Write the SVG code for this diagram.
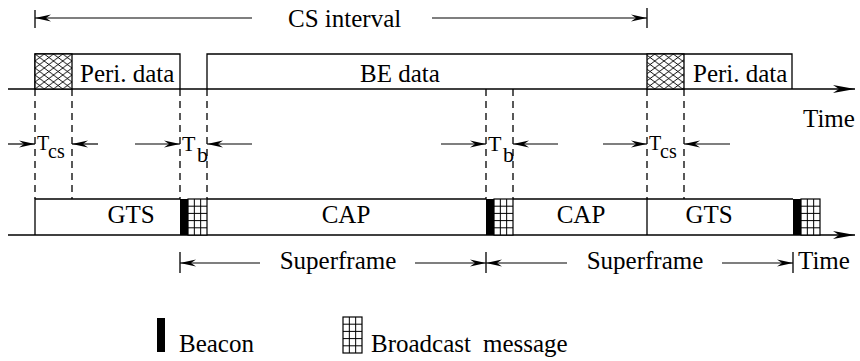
<svg xmlns="http://www.w3.org/2000/svg" xmlns:xlink="http://www.w3.org/1999/xlink" width="860" height="361" viewBox="0 0 860 361" font-family="'Liberation Serif', 'DejaVu Serif', serif">
<style>
text{font-family:'Liberation Serif','DejaVu Serif',serif;fill:#000}
.t{font-size:25px}
.s{font-size:20px}
.ln{stroke:#000;stroke-width:1.3;fill:none}
.dash{stroke:#000;stroke-width:1.3;stroke-dasharray:7 5;fill:none}
.arr{stroke:#000;stroke-width:1.2;fill:none;marker-end:url(#ah)}
.tl{stroke:#000;stroke-width:1.4;fill:none;marker-end:url(#big)}
</style>
<defs>
<marker id="ah" viewBox="0 0 16 8" refX="16" refY="4" markerWidth="16" markerHeight="8" markerUnits="userSpaceOnUse" orient="auto">
<path d="M0,0.6 L16,4 L0,7.4 L5,4 z" fill="#000"/>
</marker>
<marker id="big" viewBox="0 0 22 10" refX="22" refY="5" markerWidth="22" markerHeight="10" markerUnits="userSpaceOnUse" orient="auto">
<path d="M0,1 L22,5 L0,9 L6,5 z" fill="#000"/>
</marker>
<pattern id="xh" patternUnits="userSpaceOnUse" x="35" y="54" width="9.25" height="7">
<rect width="9.25" height="7" fill="#fff"/>
<path d="M0,0 L9.25,7 M0,7 L9.25,0" stroke="#000" stroke-width="0.9"/>
</pattern>
<g id="bgrid">
<rect x="0" y="0" width="19" height="36" fill="#fff" stroke="#000" stroke-width="1.2"/>
<path d="M6.33,0 V36 M12.67,0 V36 M0,7.2 H19 M0,14.4 H19 M0,21.6 H19 M0,28.8 H19" stroke="#000" stroke-width="1"/>
</g>
</defs>

<g id="cs-interval">
<path class="ln" d="M35,10 V28 M647,8 V28"/>
<line class="arr" x1="252" y1="18" x2="35" y2="18"/>
<line class="arr" x1="432" y1="18" x2="647" y2="18"/>
<text class="t" x="288" y="27">CS interval</text>
</g>

<g id="connectors">
<line class="tl" x1="8" y1="89" x2="855" y2="89"/>
<line class="tl" x1="8" y1="235" x2="855" y2="235"/>
<path class="dash" d="M35,89 V199 M72,89 V199 M180,89 V199 M207,89 V199 M486,89 V199 M513,89 V199 M647,89 V199 M684,89 V199"/>
<line class="arr" x1="8" y1="144" x2="35" y2="144"/>
<line class="arr" x1="98" y1="144" x2="72" y2="144"/>
<line class="arr" x1="135" y1="144" x2="180" y2="144"/>
<line class="arr" x1="252" y1="144" x2="207" y2="144"/>
<line class="arr" x1="441" y1="144" x2="486" y2="144"/>
<line class="arr" x1="558" y1="144" x2="513" y2="144"/>
<line class="arr" x1="603" y1="144" x2="647" y2="144"/>
<line class="arr" x1="730" y1="144" x2="684" y2="144"/>
<path class="ln" d="M180,252 V273 M486,252 V273 M793,252 V273"/>
<line class="arr" x1="260" y1="263" x2="180" y2="263"/>
<line class="arr" x1="415" y1="263" x2="486" y2="263"/>
<line class="arr" x1="567" y1="263" x2="486" y2="263"/>
<line class="arr" x1="722" y1="263" x2="793" y2="263"/>
</g>

<g id="top-peri1">
<path class="ln" d="M35,89 V54 H180 V89"/>
<rect x="35" y="54" width="37" height="35" fill="url(#xh)" stroke="#000" stroke-width="1.3"/>
<text class="t" x="80" y="82">Peri. data</text>
</g>

<g id="top-be">
<path class="ln" d="M207,89 V54 H792 V89"/>
<text class="t" x="400" y="82" text-anchor="middle">BE data</text>
</g>

<g id="top-peri2">
<rect x="647" y="54" width="37" height="35" fill="url(#xh)" stroke="#000" stroke-width="1.3"/>
<text class="t" x="693" y="82">Peri. data</text>
</g>

<g id="time-top">
<text class="t" x="803" y="127">Time</text>
</g>

<g id="tcs1">
<text class="s" x="37" y="150">T</text>
<text class="s" x="48" y="158">cs</text>
</g>
<g id="tb1">
<text class="s" x="182" y="151" style="font-size:22px">T</text>
<text class="s" x="197" y="162" style="font-size:22px">b</text>
</g>
<g id="tb2">
<text class="s" x="488" y="151" style="font-size:22px">T</text>
<text class="s" x="503" y="162" style="font-size:22px">b</text>
</g>
<g id="tcs2">
<text class="s" x="649" y="150">T</text>
<text class="s" x="660" y="158">cs</text>
</g>

<g id="gts1">
<path class="ln" d="M35,235 V199 H180"/>
<text class="t" x="131" y="223" text-anchor="middle">GTS</text>
</g>
<g id="beacon1">
<rect x="180" y="199" width="8" height="36" fill="#000"/>
<use xlink:href="#bgrid" x="188" y="199"/>
</g>
<g id="cap1">
<path class="ln" d="M207,199 H486"/>
<text class="t" x="346" y="223" text-anchor="middle">CAP</text>
</g>
<g id="beacon2">
<rect x="486" y="199" width="8" height="36" fill="#000"/>
<use xlink:href="#bgrid" x="494" y="199"/>
</g>
<g id="cap2">
<path class="ln" d="M513,199 H647 V235"/>
<text class="t" x="581" y="223" text-anchor="middle">CAP</text>
</g>
<g id="gts2">
<path class="ln" d="M647,199 H793"/>
<text class="t" x="709" y="223" text-anchor="middle">GTS</text>
</g>
<g id="beacon3">
<rect x="793" y="199" width="8" height="36" fill="#000"/>
<use xlink:href="#bgrid" x="801" y="199"/>
</g>

<g id="superframe-labels">
<text class="t" x="338" y="269" text-anchor="middle">Superframe</text>
<text class="t" x="645" y="269" text-anchor="middle">Superframe</text>
<text class="t" x="798" y="269">Time</text>
</g>

<g id="legend-beacon">
<rect x="157" y="318" width="8" height="34" fill="#000"/>
<text class="t" x="179" y="352">Beacon</text>
</g>
<g id="legend-broadcast">
<use xlink:href="#bgrid" x="343" y="317"/>
<text class="t" x="371" y="352">Broadcast</text>
<text class="t" x="483" y="352">message</text>
</g>
</svg>
